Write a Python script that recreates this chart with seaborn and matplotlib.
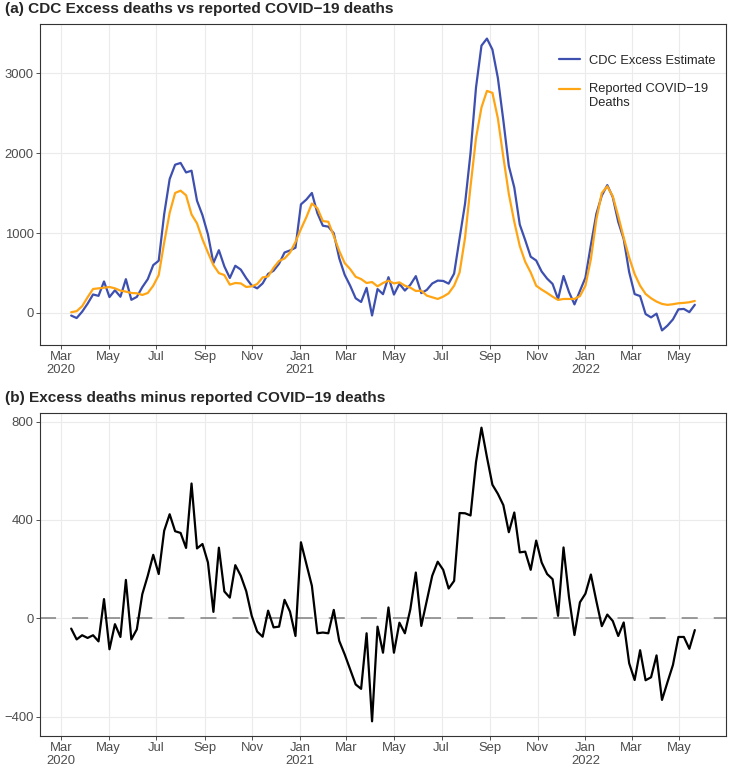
import pandas as pd
import seaborn as sns
from matplotlib import pyplot as plt

sns.set_theme(style="white")
plt.rcParams["font.family"] = ["Liberation Sans", "DejaVu Sans"]

# weekly CDC data, weeks ending Saturday from 2020-03-14
first_week = "2020-03-14"

excess = [
    -34, -65, 14, 115, 230, 213, 393, 198, 283, 202,
    422, 163, 200, 322, 422, 598, 653, 1236, 1676, 1856,
    1878, 1759, 1781, 1405, 1223, 982, 624, 785, 582, 437,
    590, 542, 434, 342, 307, 369, 488, 528, 616, 756,
    782, 816, 1359, 1420, 1502, 1250, 1092, 1080, 997, 684,
    476, 340, 183, 136, 313, -33, 298, 234, 447, 229,
    364, 279, 352, 460, 247, 287, 368, 404, 400, 366,
    492, 934, 1369, 2003, 2822, 3348, 3436, 3299, 2942, 2410,
    1840, 1570, 1106, 910, 703, 656, 518, 429, 362, 172,
    462, 260, 106, 275, 440, 850, 1240, 1470, 1600, 1450,
    1140, 925, 510, 235, 210, -15, -57, -10, -220, -160,
    -82, 44, 49, 9, 101,
]
reported = [
    8, 21, 83, 195, 299, 307, 315, 324, 307, 278,
    266, 249, 245, 224, 249, 340, 473, 880, 1253, 1502,
    1531, 1473, 1233, 1121, 921, 755, 598, 498, 473, 353,
    374, 369, 324, 332, 361, 444, 457, 565, 650, 681,
    755, 888, 1050, 1200, 1370, 1311, 1150, 1141, 963, 776,
    623, 548, 452, 423, 374, 386, 332, 374, 403, 369,
    382, 340, 315, 274, 278, 216, 195, 174, 203, 245,
    340, 506, 942, 1585, 2187, 2573, 2781, 2756, 2436, 1950,
    1490, 1140, 838, 639, 506, 340, 291, 249, 203, 162,
    174, 174, 174, 210, 340, 672, 1170, 1502, 1585, 1461,
    1212, 942, 693, 486, 340, 237, 183, 141, 112, 100,
    108, 120, 125, 133, 149,
]

series_names = ["CDC Excess Estimate", "Reported COVID\u221219\nDeaths"]
series_colors = ["#3D4FAF", "#FFA514"]

tick_dates = pd.date_range("2020-03-01", "2022-05-01", freq="2MS")
tick_labels = ["Mar\n2020", "May", "Jul", "Sep", "Nov", "Jan\n2021", "Mar", "May",
               "Jul", "Sep", "Nov", "Jan\n2022", "Mar", "May"]
yticks_a = [0, 1000, 2000, 3000]
yticks_b = [-400, 0, 400, 800]

weeks = pd.date_range(first_week, periods=len(excess), freq="7D")
df = pd.DataFrame({"week": weeks, "excess": excess, "reported": reported})
df["gap"] = df["excess"] - df["reported"]
long = df.melt(id_vars="week", value_vars=["excess", "reported"], var_name="series", value_name="deaths")
long["series"] = long["series"].map({"excess": series_names[0], "reported": series_names[1]})

W, H = 729, 766
fig = plt.figure(figsize=(W / 100, H / 100), dpi=100)
ax_a = fig.add_axes([40 / W, 1 - 345 / H, 686 / W, 321 / H])
ax_b = fig.add_axes([40 / W, 30 / H, 686 / W, 323 / H])

sns.lineplot(data=long, x="week", y="deaths", hue="series", palette=dict(zip(series_names, series_colors)),
             linewidth=1.6, ax=ax_a)
sns.lineplot(data=df, x="week", y="gap", color="black", linewidth=1.6, ax=ax_b)
ax_b.axhline(0, color="#7F7F7F", linewidth=1.1, linestyle=(0, (10.5, 10.5)), zorder=1)

for ax, yt in [(ax_a, yticks_a), (ax_b, yticks_b)]:
    ax.set_xticks(tick_dates)
    ax.set_xticklabels(tick_labels, linespacing=1.05)
    ax.set_yticks(yt)
    ax.set_xlabel("")
    ax.set_ylabel("")
    ax.grid(True, color="#EBEBEB", linewidth=0.8)
    ax.set_axisbelow(True)
    for s in ax.spines.values():
        s.set_color("#333333")
        s.set_linewidth(0.8)
    ax.tick_params(axis="both", which="major", direction="out", length=2.75, width=0.6,
                   color="#333333", labelsize=9.4, labelcolor="#4D4D4D", pad=1.8,
                   bottom=True, left=True)
    ax.margins(x=0.05, y=0.05)

handles, labels = ax_a.get_legend_handles_labels()
leg = ax_a.legend(handles, labels, loc="upper left", bbox_to_anchor=(0.7566, 0.905), frameon=False,
                  fontsize=9.3, handlelength=1.6, handletextpad=0.75, labelspacing=1.3, borderpad=0,
                  borderaxespad=0)
for t in leg.get_texts():
    t.set_linespacing(1.2)
# ggplot puts the key next to the first line of a wrapped label
key = leg.legend_handles[1]
key.set_ydata([y + 5.5 for y in key.get_ydata()])

fig.text(5 / W, 1 - 9 / H, "(a) CDC Excess deaths vs reported COVID\u221219 deaths",
         fontsize=11.1, fontweight="bold", va="center", ha="left")
fig.text(5 / W, 1 - 398 / H, "(b) Excess deaths minus reported COVID\u221219 deaths",
         fontsize=11.1, fontweight="bold", va="center", ha="left")

fig.savefig("out.png", dpi=100)
